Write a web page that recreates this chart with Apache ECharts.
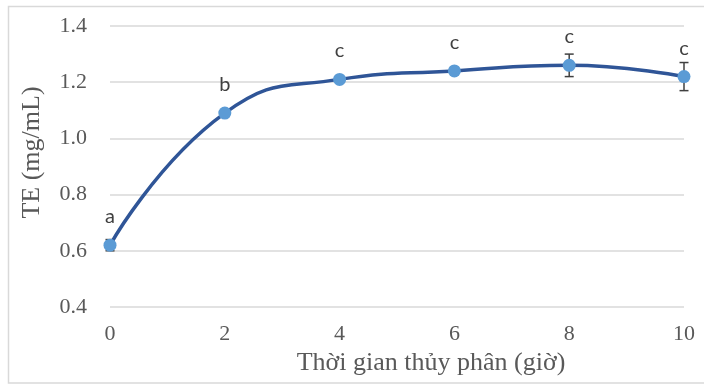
<!DOCTYPE html>
<html>
<head>
<meta charset="utf-8">
<script src="https://cdn.jsdelivr.net/npm/echarts@6/dist/echarts.min.js"></script>
<style>
  html, body { margin: 0; padding: 0; background: #fff; }
  #chart { width: 704px; height: 384px; }
</style>
</head>
<body>
<div id="chart"></div>
<script>
// Hydrolysis time (hours) and total extract (mg/mL)
const hours = [0, 2, 4, 6, 8, 10];
const teValues = [0.62, 1.09, 1.21, 1.24, 1.26, 1.22];
const teErrors = [0.02, 0.01, 0.01, 0.01, 0.04, 0.05];
const groupLetters = ['a', 'b', 'c', 'c', 'c', 'c'];
const yTicks = [0.4, 0.6, 0.8, 1.0, 1.2, 1.4];

const chart = echarts.init(document.getElementById('chart'));

const serif = '"Liberation Serif", "Times New Roman", serif';
const axisGray = '#595959';

const lineData = hours.map((h, i) => [h, teValues[i]]);
const errData = hours.map((h, i) => [h, teValues[i] - teErrors[i], teValues[i] + teErrors[i]]);

chart.setOption({
  animation: false,
  graphic: [{
    type: 'rect',
    shape: { x: 8.5, y: 6.5, width: 720, height: 376.5 },
    style: { fill: 'none', stroke: '#d9d9d9', lineWidth: 1.5 },
    silent: true,
    z: -10
  }],
  grid: { left: 110, right: 20, top: 26, bottom: 77 },
  xAxis: {
    type: 'value',
    min: 0,
    max: 10,
    interval: 2,
    name: 'Thời gian thủy phân (giờ)',
    nameLocation: 'middle',
    nameGap: 42,
    nameTextStyle: {
      fontFamily: serif, fontSize: 26, color: axisGray,
      padding: [0, 0, 0, 68]
    },
    axisLine: { show: false },
    axisTick: { show: false },
    splitLine: { show: false },
    axisLabel: { fontFamily: serif, fontSize: 22, color: axisGray, margin: 16 }
  },
  yAxis: {
    type: 'value',
    min: yTicks[0],
    max: yTicks[yTicks.length - 1],
    interval: 0.2,
    name: 'TE (mg/mL)',
    nameLocation: 'middle',
    nameGap: 65,
    nameRotate: 90,
    nameTextStyle: {
      fontFamily: serif, fontSize: 26, color: axisGray,
      padding: [0, 0, 0, 28]
    },
    axisLine: { show: false },
    axisTick: { show: false },
    splitLine: { lineStyle: { color: '#d9d9d9', width: 1.5 } },
    axisLabel: {
      fontFamily: serif, fontSize: 22, color: axisGray, margin: 23,
      formatter: v => v.toFixed(1)
    }
  },
  series: [
    {
      type: 'custom',
      data: errData,
      z: 2,
      renderItem: function (params, api) {
        const x = api.coord([api.value(0), api.value(1)])[0];
        const yLow = api.coord([api.value(0), api.value(1)])[1];
        const yHigh = api.coord([api.value(0), api.value(2)])[1];
        const half = 4.5;
        const style = { stroke: '#404040', lineWidth: 1.5, fill: null };
        return {
          type: 'group',
          children: [
            { type: 'line', shape: { x1: x, y1: yLow, x2: x, y2: yHigh }, style },
            { type: 'line', shape: { x1: x - half, y1: yLow, x2: x + half, y2: yLow }, style },
            { type: 'line', shape: { x1: x - half, y1: yHigh, x2: x + half, y2: yHigh }, style }
          ]
        };
      }
    },
    {
      type: 'line',
      data: lineData,
      smooth: 0.5,
      z: 3,
      lineStyle: { color: '#2F5597', width: 3.5 },
      symbol: 'circle',
      symbolSize: 13,
      itemStyle: { color: '#5B9BD5' },
      label: {
        show: true,
        position: 'top',
        distance: 12,
        fontFamily: 'Lato, "Open Sans", sans-serif',
        fontSize: 20,
        color: '#404040',
        formatter: p => groupLetters[p.dataIndex]
      }
    }
  ]
});
</script>
</body>
</html>
